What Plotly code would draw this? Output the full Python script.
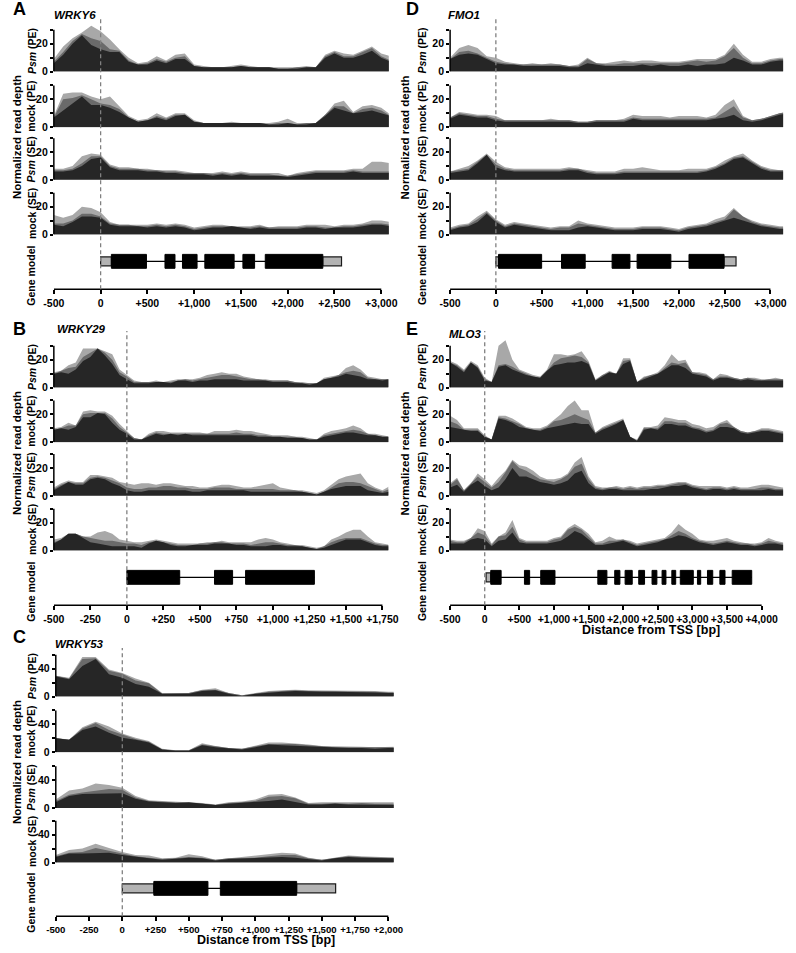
import plotly.graph_objects as go

W, H = 796, 953
FONT = "Liberation Sans, Arial, sans-serif"
LIGHT, MID, DARK = "#a8a8a8", "#6a6a6a", "#262626"

# ---------------- data: positions (bp from TSS) ----------------
POS_A = list(range(-500, 3101, 100))
POS_D = list(range(-500, 3201, 100))
POS_B = list(range(-500, 1801, 50))
POS_E = list(range(-500, 4401, 100))
POS_C = list(range(-500, 2101, 100))

# ---------------- WRKY6 (A) ----------------
A1_lo = [6,12,20,26,19,16,14,14,7,5,5,8,6,9,9,4,3,3,3,3,4,3,3,3,2,2,2,3,3,10,13,10,10,12,15,10,7]
A1_mid = [7,14,22,27,24,22,16,15,8,5,6,9,7,10,11,4,3,3,3,3,4,3,3,3,2,2,3,3,3,11,14,11,11,14,17,11,8]
A1_hi = [9,18,24,28,33,29,23,16,10,6,7,11,8,12,13,5,4,3,3,4,5,4,3,3,3,3,3,4,3,12,15,13,12,15,18,13,11]
A2_lo = [7,12,17,22,16,16,14,11,7,4,5,7,5,8,9,4,3,3,3,3,3,3,3,2,2,3,2,2,3,8,14,12,10,11,12,10,8]
A2_mid = [7,20,21,23,20,17,16,13,7,4,5,8,6,9,9,4,3,3,3,3,3,3,3,2,3,3,2,3,3,9,15,15,10,13,14,12,8]
A2_hi = [8,24,25,25,22,20,22,15,8,5,6,10,7,10,10,5,3,3,3,4,3,3,3,3,4,6,3,3,3,9,17,19,11,15,16,14,9]
A3_lo = [6,6,7,10,15,16,9,7,7,7,6,6,5,5,4,4,4,3,4,3,4,3,3,3,3,2,3,4,5,5,5,5,6,5,5,5,5]
A3_mid = [7,7,8,12,17,17,10,8,8,8,7,7,6,6,5,5,5,4,5,4,5,4,4,4,3,3,4,5,6,6,6,6,7,6,6,6,6]
A3_hi = [8,8,10,17,19,18,11,9,9,8,8,7,7,7,6,5,5,5,6,5,6,5,5,5,5,3,5,6,7,7,7,7,8,8,13,13,12]
A4_lo = [7,6,9,13,13,12,7,6,6,6,5,6,5,6,5,3,4,5,5,6,5,4,5,4,4,4,4,5,5,4,5,5,5,6,7,7,6]
A4_mid = [8,8,10,15,15,13,8,7,7,6,6,7,6,7,6,4,5,6,6,6,5,5,6,5,5,5,5,6,6,5,5,6,6,7,8,8,7]
A4_hi = [14,12,14,20,19,16,9,7,7,7,7,8,7,8,7,5,6,7,7,6,6,6,7,5,6,6,6,7,7,7,6,7,7,8,10,10,9]

# ---------------- FMO1 (D) ----------------
D1_lo = [9,12,13,12,9,6,5,5,4,4,4,4,4,3,3,6,5,4,4,4,4,5,4,5,4,4,5,4,5,5,6,10,8,5,5,7,8,8]
D1_mid = [9,14,15,13,10,7,6,5,5,5,5,5,5,4,4,9,6,5,5,6,6,6,6,6,6,6,7,8,7,8,11,17,10,6,6,8,9,9]
D1_hi = [10,17,19,17,11,10,7,6,5,6,5,6,5,4,5,10,6,6,7,8,7,8,8,7,7,7,8,9,9,9,12,20,12,7,7,9,10,10]
D2_lo = [6,9,8,7,7,5,4,4,4,4,4,4,4,4,3,3,4,4,4,4,6,5,5,5,5,5,5,5,5,6,7,9,5,4,5,7,9,10]
D2_mid = [7,10,9,8,8,6,5,5,5,5,5,5,5,5,4,4,5,5,5,5,7,6,6,6,6,6,6,6,6,7,11,15,7,5,6,8,10,11]
D2_hi = [7,11,10,9,9,8,5,5,5,5,5,6,5,5,4,4,5,5,5,6,9,8,8,8,7,8,8,8,7,9,16,20,8,5,6,8,10,11]
D3_lo = [5,6,7,12,18,9,7,6,6,6,6,6,6,7,7,5,4,4,4,5,5,5,5,5,5,5,5,5,6,8,11,15,16,12,8,6,6,6]
D3_mid = [6,7,8,13,18,11,8,7,7,7,7,7,7,8,8,6,5,5,5,6,6,6,6,6,6,6,6,6,7,9,12,16,17,13,9,7,7,7]
D3_hi = [6,8,10,14,19,13,9,8,8,8,8,8,8,9,8,7,6,6,6,8,8,9,8,7,7,7,8,8,8,10,14,17,19,14,10,8,7,7]
D4_lo = [3,5,6,9,15,9,5,7,6,5,4,3,3,3,5,6,5,4,3,3,3,4,4,4,3,2,4,5,6,8,10,12,10,8,6,5,4,4]
D4_mid = [4,6,7,11,16,10,6,8,7,6,5,4,5,5,8,7,6,5,4,4,4,5,5,5,4,3,5,6,7,9,11,18,13,9,7,6,5,5]
D4_hi = [5,7,8,13,17,11,7,9,8,7,6,5,6,6,10,8,7,6,5,5,5,6,6,6,5,4,6,7,8,11,13,19,13,10,8,7,6,6]

# ---------------- WRKY29 (B) ----------------
B1_lo = [10,11,10,13,19,22,28,23,17,9,6,3,3,3,4,4,3,5,5,4,5,5,6,6,6,6,5,5,5,5,4,4,4,3,3,2,3,6,7,8,10,9,8,6,6,5,6]
B1_mid = [10,12,14,15,22,25,28,25,20,11,8,4,4,4,4,4,4,5,6,5,6,7,8,9,9,8,7,6,6,5,5,5,5,4,3,3,3,6,7,9,11,12,11,7,6,6,6]
B1_hi = [11,12,16,18,28,28,28,26,24,13,9,5,4,4,5,4,5,6,6,6,7,9,10,11,10,10,8,7,6,6,5,5,5,4,4,3,3,7,8,9,14,16,13,8,7,6,6]
B2_lo = [9,10,9,11,18,18,21,20,14,9,6,2,2,4,6,5,6,5,6,5,5,5,5,5,5,5,5,5,4,4,4,4,3,3,3,2,2,4,5,6,7,7,6,5,5,4,4]
B2_mid = [9,10,12,12,20,21,21,21,17,11,7,3,2,5,7,6,6,6,6,6,6,6,6,6,6,7,6,6,5,5,4,4,4,4,3,2,2,5,6,7,8,9,8,6,5,4,4]
B2_hi = [10,11,14,12,22,23,22,22,19,13,8,3,2,6,8,8,7,7,7,7,7,6,8,8,8,9,8,8,7,6,5,5,5,4,4,3,2,6,8,9,10,12,10,6,6,5,4]
B3_lo = [4,7,10,8,8,12,13,12,9,7,4,3,3,4,4,4,4,4,4,3,3,4,4,4,4,4,4,3,3,3,3,3,3,3,3,2,1,3,5,6,7,7,7,4,3,2,3]
B3_mid = [5,8,10,9,9,13,14,13,11,9,6,5,5,6,6,7,7,6,6,5,5,5,6,6,6,5,5,5,5,5,5,4,4,4,3,2,1,3,6,9,10,10,9,7,5,3,5]
B3_hi = [6,9,11,10,10,15,15,14,13,10,9,8,9,9,8,9,9,8,7,7,6,6,7,8,8,7,6,6,7,8,9,6,5,4,4,3,2,4,8,12,14,15,16,9,6,4,7]
B4_lo = [5,8,12,12,9,6,5,4,3,3,3,3,2,5,7,6,4,3,3,4,4,4,5,5,5,4,4,3,3,3,4,4,3,3,3,2,1,2,4,6,8,8,8,6,4,3,3]
B4_mid = [6,8,12,12,10,9,8,7,7,6,5,5,4,6,7,6,5,4,4,4,5,5,6,6,5,5,5,4,5,6,6,5,4,4,3,2,1,3,6,8,9,9,9,7,5,4,4]
B4_hi = [8,9,12,12,10,10,13,14,12,8,7,6,6,7,8,7,6,5,5,5,5,6,6,7,6,6,6,6,8,9,8,6,5,4,4,3,2,3,8,10,13,15,15,10,6,5,4]

# ---------------- MLO3 (E) ----------------
E1_lo = [18,15,11,18,14,5,4,15,16,13,11,9,8,7,12,16,17,18,18,19,17,5,8,11,10,17,19,4,6,8,10,13,16,16,14,10,9,8,5,7,7,6,5,6,5,5,5,5,5,5]
E1_mid = [18,16,12,18,15,6,4,16,17,15,12,10,8,7,12,18,21,22,23,22,18,5,9,11,10,19,20,4,7,9,10,14,18,17,18,11,10,9,6,8,8,7,6,7,6,5,6,6,6,6]
E1_hi = [19,17,13,19,16,7,4,30,34,20,13,11,9,8,13,24,24,23,24,26,19,6,9,12,10,21,21,4,8,9,11,16,24,19,20,11,11,10,6,10,9,7,6,7,7,6,6,7,6,6]
E2_lo = [11,10,9,8,8,4,2,17,16,14,11,10,9,8,10,11,12,13,14,13,13,6,9,11,13,16,4,1,9,10,9,13,13,12,12,10,9,7,8,11,11,10,7,6,7,8,8,7,6,6]
E2_mid = [15,13,9,9,9,4,2,18,17,15,13,10,9,9,11,15,16,18,20,18,16,7,10,12,14,16,4,1,10,10,10,15,15,14,14,11,10,8,9,13,14,11,8,7,8,9,9,8,7,7]
E2_hi = [19,16,10,10,10,5,2,19,19,17,14,11,10,10,12,16,20,26,30,23,23,7,11,13,15,17,4,2,11,11,12,18,17,16,16,13,12,10,11,14,16,11,8,7,8,10,10,9,8,8]
E3_lo = [6,8,3,8,11,7,4,6,12,20,14,14,12,10,9,8,9,11,16,18,9,5,4,5,5,4,4,4,4,5,5,6,7,7,8,6,5,4,5,5,4,5,4,4,4,4,5,4,4,4]
E3_mid = [8,12,4,9,14,10,6,10,17,25,20,18,15,12,11,10,12,15,21,23,12,6,5,6,6,5,6,5,6,6,7,7,8,9,9,7,6,5,6,6,5,6,5,5,5,6,6,5,5,5]
E3_hi = [9,13,4,9,16,12,7,13,18,26,22,21,18,14,12,12,13,16,24,28,14,7,6,6,7,6,7,6,7,7,8,8,9,10,10,8,7,7,7,7,6,7,6,6,7,8,8,7,6,6]
E4_lo = [5,5,5,8,9,8,3,7,8,13,6,5,5,5,5,6,7,10,14,12,8,4,4,5,6,7,5,3,4,5,6,8,9,11,10,8,6,5,4,5,6,5,4,4,3,4,5,5,4,4]
E4_mid = [7,6,6,9,13,11,4,10,11,17,8,6,6,6,6,8,9,15,17,15,10,5,5,7,7,8,6,4,5,6,7,8,11,14,12,9,7,6,5,6,7,6,5,5,4,5,7,6,5,5]
E4_hi = [8,7,7,9,16,14,5,10,13,22,9,7,7,7,7,9,10,16,19,16,12,6,7,10,8,8,7,5,6,7,8,9,13,19,15,12,8,7,7,8,9,7,6,5,5,6,9,7,6,6]

# ---------------- WRKY53 (C) ----------------
C1_lo = [29,25,44,54,32,27,18,14,4,4,4,8,9,4,1,4,6,7,8,7,7,7,7,6,6,5,5]
C1_mid = [30,26,54,55,37,33,23,19,4,4,5,9,10,5,2,4,7,8,9,8,8,8,8,7,7,6,6]
C1_hi = [30,27,57,57,39,34,26,20,5,5,5,10,12,5,2,5,8,9,10,9,9,9,9,8,8,7,7]
C2_lo = [20,18,32,37,28,21,18,14,4,2,2,10,7,5,4,7,11,10,9,8,7,6,6,6,5,6,6]
C2_mid = [20,18,34,42,32,25,19,15,4,3,3,11,8,6,5,8,12,12,12,10,8,7,7,7,6,7,7]
C2_hi = [21,18,36,44,37,27,21,16,5,3,3,13,9,6,5,9,14,14,13,11,9,9,8,8,7,8,8]
C3_lo = [8,17,20,20,20,21,13,9,8,7,8,6,4,6,7,8,10,12,9,5,5,6,5,5,5,4,4]
C3_mid = [10,19,22,25,27,26,15,10,9,8,8,6,4,7,8,10,16,17,14,6,6,7,6,7,6,6,6]
C3_hi = [12,25,28,35,33,29,17,11,10,9,9,7,5,8,9,12,19,20,15,7,8,8,8,9,8,8,8]
C4_lo = [8,13,13,14,14,11,8,6,4,5,7,6,3,5,6,6,8,8,7,5,3,6,8,7,6,6,6]
C4_mid = [9,14,15,21,17,13,9,7,5,6,8,7,4,6,6,7,9,11,11,6,4,7,9,8,7,7,7]
C4_hi = [11,18,20,27,21,15,11,10,6,7,12,9,4,6,7,10,12,14,13,7,4,7,10,9,8,7,7]

# ---------------- gene models (bp) ----------------
EXONS_A = [(115, 490), (688, 795), (875, 1031), (1114, 1427), (1521, 1646), (1760, 2375)]
UTRS_A = [(0, 115), (2375, 2575)]
EXONS_D = [(29, 500), (717, 976), (1270, 1465), (1543, 1912), (2110, 2493)]
UTRS_D = [(0, 29), (2493, 2624)]
EXONS_B = [(0, 362), (600, 724), (813, 1284)]
UTRS_B = []
EXONS_E = [(87, 237), (574, 649), (809, 1015), (1634, 1765), (1878, 1953), (2028, 2131),
           (2225, 2309), (2417, 2487), (2562, 2618), (2703, 2759), (2825, 3013),
           (3073, 3120), (3218, 3294), (3397, 3471), (3575, 3857)]
UTRS_E = [(20, 87)]
EXONS_C = [(237, 644), (737, 1311)]
UTRS_C = [(0, 237), (1311, 1604)]

# ---------------- tick labels ----------------
XT_A = [-500, 0, 500, 1000, 1500, 2000, 2500, 3000]
XL_A = ["-500", "0", "+500", "+1,000", "+1,500", "+2,000", "+2,500", "+3,000"]
XT_B = [-500, -250, 0, 250, 500, 750, 1000, 1250, 1500, 1750]
XL_B = ["-500", "-250", "0", "+250", "+500", "+750", "+1,000", "+1,250", "+1,500", "+1,750"]
XT_C = [-500, -250, 0, 250, 500, 750, 1000, 1250, 1500, 1750, 2000]
XL_C = ["-500", "-250", "0", "+250", "+500", "+750", "+1,000", "+1,250", "+1,500", "+1,750", "+2,000"]
XT_E = [-500, 0, 500, 1000, 1500, 2000, 2500, 3000, 3500, 4000]
XL_E = ["-500", "0", "+500", "+1,000", "+1,500", "+2,000", "+2,500", "+3,000", "+3,500", "+4,000"]
YT_30 = [0, 10, 20, 30]
YL_30 = ["0", "", "20", ""]
YT_60 = [0, 20, 40, 60]
YL_60 = ["0", "", "40", ""]

TRACK_LABELS = ["<i>Psm</i> (PE)", "mock (PE)", "<i>Psm</i> (SE)", "mock (SE)"]

PANELS = [
    dict(letter="A", gene="WRKY6", pos=POS_A,
         tracks=[(A1_lo, A1_mid, A1_hi), (A2_lo, A2_mid, A2_hi), (A3_lo, A3_mid, A3_hi), (A4_lo, A4_mid, A4_hi)],
         xpx=(44, 388), xrange=(-500, 3080), zeros=[72, 128, 181, 236], ppu=1.4, yr=38, ytop=30,
         ytv=YT_30, ytl=YL_30, gene_y=263, axis_y=291, xtv=XT_A, xtl=XL_A, xfs=10.5,
         exons=EXONS_A, utrs=UTRS_A, intron=(0, 2575),
         letter_xy=(9, 9), gene_xy=(42, 15), dash_top=17, label_x=21, norm_x=6, title=None),
    dict(letter="D", gene="FMO1", pos=POS_D,
         tracks=[(D1_lo, D1_mid, D1_hi), (D2_lo, D2_mid, D2_hi), (D3_lo, D3_mid, D3_hi), (D4_lo, D4_mid, D4_hi)],
         xpx=(451, 793), xrange=(-500, 3138), zeros=[72, 128, 181, 236], ppu=1.4, yr=38, ytop=30,
         ytv=YT_30, ytl=YL_30, gene_y=263, axis_y=291, xtv=XT_A, xtl=XL_A, xfs=10.5,
         exons=EXONS_D, utrs=UTRS_D, intron=(0, 2624),
         letter_xy=(412, 9), gene_xy=(447, 15), dash_top=17, label_x=422, norm_x=405, title=None),
    dict(letter="B", gene="WRKY29", pos=POS_B,
         tracks=[(B1_lo, B1_mid, B1_hi), (B2_lo, B2_mid, B2_hi), (B3_lo, B3_mid, B3_hi), (B4_lo, B4_mid, B4_hi)],
         xpx=(44, 387.5), xrange=(-500, 1790), zeros=[390, 445, 499, 554], ppu=1.4, yr=38, ytop=30,
         ytv=YT_30, ytl=YL_30, gene_y=581, axis_y=609, xtv=XT_B, xtl=XL_B, xfs=10.5,
         exons=EXONS_B, utrs=UTRS_B, intron=(0, 1284),
         letter_xy=(9, 331), gene_xy=(45, 331), dash_top=333, label_x=21, norm_x=6, title=None),
    dict(letter="E", gene="MLO3", pos=POS_E,
         tracks=[(E1_lo, E1_mid, E1_hi), (E2_lo, E2_mid, E2_hi), (E3_lo, E3_mid, E3_hi), (E4_lo, E4_mid, E4_hi)],
         xpx=(451, 793), xrange=(-500, 4310), zeros=[390, 445, 499, 554], ppu=1.4, yr=38, ytop=30,
         ytv=YT_30, ytl=YL_30, gene_y=581, axis_y=609, xtv=XT_E, xtl=XL_E, xfs=10.5,
         exons=EXONS_E, utrs=UTRS_E, intron=(20, 3857),
         letter_xy=(412, 331), gene_xy=(448, 336), dash_top=333, label_x=422, norm_x=405,
         title=(657, 634)),
    dict(letter="C", gene="WRKY53", pos=POS_C,
         tracks=[(C1_lo, C1_mid, C1_hi), (C2_lo, C2_mid, C2_hi), (C3_lo, C3_mid, C3_hi), (C4_lo, C4_mid, C4_hi)],
         xpx=(46, 393), xrange=(-500, 2040), zeros=[701, 757, 813, 868], ppu=0.7, yr=76, ytop=60,
         ytv=YT_60, ytl=YL_60, gene_y=894, axis_y=922, xtv=XT_C, xtl=XL_C, xfs=9.6,
         exons=EXONS_C, utrs=UTRS_C, intron=(0, 1604),
         letter_xy=(9, 641), gene_xy=(43, 648), dash_top=652, label_x=21, norm_x=6,
         title=(262, 946)),
]

for P in PANELS:
    for tr in P["tracks"]:
        for arr in tr:
            assert len(arr) == len(P["pos"]), (P["letter"], len(arr), len(P["pos"]))


def fx(p):
    return p / W


def fy(p):
    return 1 - p / H


def tfont(size):
    return dict(family=FONT, size=size, color="black", weight="bold")


lblfont = dict(family=FONT, size=10.5, color="black", weight="bold")
normfont = dict(family=FONT, size=11.5, color="black", weight="bold")

traces, shapes, annots = [], [], []
layout = dict(autosize=True, margin=dict(l=0, r=0, t=0, b=0),
              paper_bgcolor="white", plot_bgcolor="rgba(0,0,0,0)", showlegend=False,
              hovermode=False)
n = 0


def ids(k):
    s = "" if k == 1 else str(k)
    return "x" + s, "y" + s, "xaxis" + s, "yaxis" + s


for P in PANELS:
    x0, x1 = P["xpx"]
    xdom = [fx(x0), fx(x1)]
    # coverage tracks
    for ti, (lo, mid, hi) in enumerate(P["tracks"]):
        n += 1
        xa, ya, xk, yk = ids(n)
        z = P["zeros"][ti]
        top = z - P["ppu"] * P["yr"]
        layout[xk] = dict(domain=xdom, range=list(P["xrange"]), visible=False, anchor=ya)
        layout[yk] = dict(domain=[fy(z), fy(top)], range=[0, P["yr"]], anchor=xa,
                          showgrid=False, zeroline=False, showline=False,
                          ticks="outside", ticklen=3, tickwidth=1.5, tickcolor="black",
                          tickmode="array", tickvals=P["ytv"], ticktext=P["ytl"], tickfont=tfont(10.5))
        for arr, col in ((hi, LIGHT), (mid, MID), (lo, DARK)):
            traces.append(go.Scatter(x=P["pos"], y=arr, xaxis=xa, yaxis=ya, mode="lines",
                                     line=dict(width=0, color=col), fill="tozeroy", fillcolor=col,
                                     hoverinfo="skip"))
        shapes.append(dict(type="line", xref="paper", yref=ya, x0=fx(x0), x1=fx(x0),
                           y0=0, y1=P["ytop"], line=dict(color="black", width=1.5)))
        annots.append(dict(text="<b>" + TRACK_LABELS[ti] + "</b>", xref="paper", yref="paper",
                           x=fx(P["label_x"]), y=fy(z - P["ppu"] * P["ytop"] / 2), textangle=-90,
                           showarrow=False, xanchor="center", yanchor="middle", font=lblfont))
    # gene model subplot (carries the x axis)
    n += 1
    xa, ya, xk, yk = ids(n)
    off = P["axis_y"] - P["gene_y"]
    layout[xk] = dict(domain=xdom, range=list(P["xrange"]), anchor=ya, showgrid=False,
                      zeroline=False, showline=False, ticks="outside", ticklen=4, tickwidth=1.5,
                      tickcolor="black", tickmode="array", tickvals=P["xtv"], ticktext=P["xtl"],
                      tickfont=tfont(P["xfs"]), tickangle=0)
    layout[yk] = dict(domain=[fy(P["axis_y"]), fy(P["axis_y"] - 46)], range=[-off, 46 - off],
                      visible=False, anchor=xa)
    shapes.append(dict(type="line", xref=xa, yref="paper", x0=P["xtv"][0], x1=P["xtv"][-1],
                       y0=fy(P["axis_y"]), y1=fy(P["axis_y"]), line=dict(color="black", width=1.5)))
    shapes.append(dict(type="line", xref=xa, yref=ya, x0=P["intron"][0], x1=P["intron"][1],
                       y0=0, y1=0, line=dict(color="black", width=1.2)))
    for (a, b) in P["utrs"]:
        shapes.append(dict(type="rect", xref=xa, yref=ya, x0=a, x1=b, y0=-4.5, y1=4.5,
                           fillcolor="#b3b3b3", line=dict(color="#1a1a1a", width=1.2)))
    for (a, b) in P["exons"]:
        shapes.append(dict(type="rect", xref=xa, yref=ya, x0=a, x1=b, y0=-7, y1=7,
                           fillcolor="black", line=dict(color="black", width=1)))
    # TSS dashed line
    shapes.append(dict(type="line", xref=xa, yref="paper", x0=0, x1=0,
                       y0=fy(P["axis_y"]), y1=fy(P["dash_top"]),
                       line=dict(color="#808080", width=1.3, dash="4px,3px")))
    annots.append(dict(text="<b>Gene model</b>", xref="paper", yref="paper",
                       x=fx(P["label_x"]), y=fy(P["axis_y"] - 14), textangle=-90, showarrow=False,
                       xanchor="center", yanchor="middle", font=lblfont))
    annots.append(dict(text="<b>Normalized read depth</b>", xref="paper", yref="paper",
                       x=fx(P["norm_x"]), y=fy(P["zeros"][0] + 66), textangle=-90, showarrow=False,
                       xanchor="center", yanchor="middle", font=normfont))
    annots.append(dict(text="<b>" + P["letter"] + "</b>", xref="paper", yref="paper",
                       x=fx(P["letter_xy"][0]), y=fy(P["letter_xy"][1]), showarrow=False,
                       xanchor="center", yanchor="middle",
                       font=dict(family=FONT, size=18, color="black")))
    annots.append(dict(text="<b><i>" + P["gene"] + "</i></b>", xref="paper", yref="paper",
                       x=fx(P["gene_xy"][0]), y=fy(P["gene_xy"][1]), showarrow=False,
                       xanchor="left", yanchor="middle",
                       font=dict(family=FONT, size=11.5, color="black")))
    if P["title"]:
        annots.append(dict(text="<b>Distance from TSS [bp]</b>", xref="paper", yref="paper",
                           x=fx(P["title"][0]), y=fy(P["title"][1]), showarrow=False,
                           xanchor="center", yanchor="middle",
                           font=dict(family=FONT, size=12.5, color="black")))

layout["shapes"] = shapes
layout["annotations"] = annots
fig = go.Figure(data=traces, layout=layout)
fig.write_html(
    "out.html",
    config={"displayModeBar": False},
    default_width="796px;position:absolute;left:0;top:0;margin:0",
    default_height="953px",
    post_script="document.body.style.margin='0';document.body.style.overflow='hidden';",
)
